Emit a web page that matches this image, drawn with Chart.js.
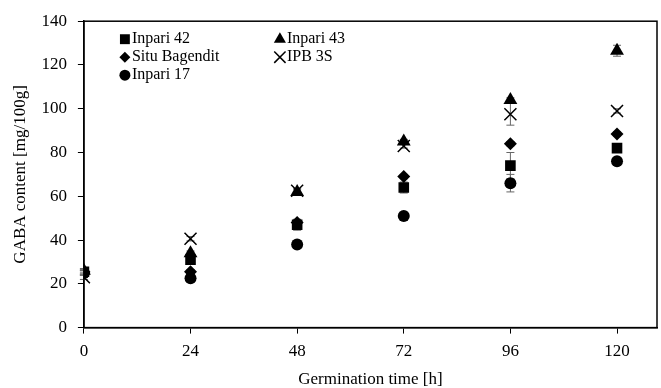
<!DOCTYPE html>
<html>
<head>
<meta charset="utf-8">
<script src="https://cdn.jsdelivr.net/npm/chart.js@4"></script>
<style>
  html, body { margin: 0; padding: 0; background: #fff; }
  #wrap { width: 661px; height: 388px; }
</style>
</head>
<body>
<div id="wrap"><canvas id="canva"></canvas></div>
<script>
const hours = [0, 24, 48, 72, 96, 120];
const xTicks = [0, 24, 48, 72, 96, 120];
const yTicks = [0, 20, 40, 60, 80, 100, 120, 140];

const inpari42 = [25.5, 31, 47, 64, 74, 82];
const inpari43 = [26, 34, 62, 85, 104, 126.5];
const situBagendit = [25, 25.5, 48, 69, 84, 88.5];
const ipb3s = [23, 40.6, 62.5, 83, 97.5, 99];
const inpari17 = [25, 22.5, 38, 51, 66, 76];

const err42 = [1, 2, 2.5, 2.5, 6, 2];
const err43 = [1, 1, 1, 1, 1, 2.5];
const errSitu = [1, 1, 1, 1, 1, 1];
const errIpb = [1, 1, 1, 1, 5, 1];
const err17 = [1, 1, 1, 1, 4, 1];

function pts(ys) {
  return hours.map((h, i) => ({ x: h, y: ys[i] }));
}

const serif = "'Liberation Serif', 'Times New Roman', serif";

const data = {
  datasets: [
    { label: "Inpari 42", data: pts(inpari42), err: err42, pointStyle: "rect", pointRadius: 7.5 },
    { label: "Inpari 43", data: pts(inpari43), err: err43, pointStyle: "triangle", pointRadius: 8 },
    { label: "Situ Bagendit", data: pts(situBagendit), err: errSitu, pointStyle: "rectRot", pointRadius: 6.5 },
    { label: "IPB 3S", data: pts(ipb3s), err: errIpb, pointStyle: "crossRot", pointRadius: 8.5 },
    { label: "Inpari 17", data: pts(inpari17), err: err17, pointStyle: "circle", pointRadius: 6 },
  ].map(d => Object.assign(d, {
    backgroundColor: "#000",
    borderColor: "#000",
    borderWidth: d.pointStyle === "crossRot" ? 1.5 : 0,
    pointHoverRadius: d.pointRadius,
  })),
};

// grey error bars, drawn before the markers
const errorBars = {
  id: "errorBars",
  beforeDatasetsDraw(chart) {
    const ctx = chart.ctx;
    const xs = chart.scales.x, ys = chart.scales.y;
    ctx.save();
    ctx.strokeStyle = "#666";
    ctx.lineWidth = 1;
    chart.data.datasets.forEach(ds => {
      ds.data.forEach((p, i) => {
        const e = ds.err[i];
        const px = xs.getPixelForValue(p.x);
        const top = ys.getPixelForValue(p.y + e);
        const bot = ys.getPixelForValue(p.y - e);
        ctx.beginPath();
        ctx.moveTo(px, top); ctx.lineTo(px, bot);
        ctx.moveTo(px - 4, top); ctx.lineTo(px + 4, top);
        ctx.moveTo(px - 4, bot); ctx.lineTo(px + 4, bot);
        ctx.stroke();
      });
    });
    ctx.restore();
  },
};

// box round the plot and the legend inside it
const frameLegend = {
  id: "frameLegend",
  afterDraw(chart) {
    const ctx = chart.ctx;
    const a = chart.chartArea;
    ctx.save();
    ctx.strokeStyle = "#000";
    ctx.lineWidth = 1.5;
    ctx.strokeRect(a.left, a.top, a.right - a.left, a.bottom - a.top);

    const slots = [
      [a.left + 41, a.top + 17],
      [a.left + 196, a.top + 17],
      [a.left + 41, a.top + 35],
      [a.left + 196, a.top + 35],
      [a.left + 41, a.top + 53],
    ];
    ctx.font = "16px " + serif;
    ctx.textBaseline = "middle";
    ctx.fillStyle = "#000";
    chart.data.datasets.forEach((ds, i) => {
      const [lx, ly] = slots[i];
      const r = ds.pointStyle === "crossRot" ? 8 : ds.pointStyle === "triangle" ? 7 : 5.5;
      Chart.helpers.drawPoint(ctx, {
        pointStyle: ds.pointStyle,
        radius: ds.pointStyle === "rect" ? 7 : r,
        borderWidth: ds.pointStyle === "crossRot" ? 1.2 : 0,
      }, lx, ly + 1);
      ctx.fillStyle = "#000";
      ctx.fillText(ds.label, lx + 7, ly + 1);
    });
    ctx.restore();
  },
};

const config = {
  type: "scatter",
  data: data,
  options: {
    responsive: true,
    maintainAspectRatio: false,
    animation: false,
    layout: { autoPadding: false, padding: { top: 21, right: 4, left: 10, bottom: 0 } },
    plugins: {
      legend: { display: false },
      tooltip: { enabled: false },
    },
    scales: {
      x: {
        type: "linear",
        min: 0,
        max: 129,
        afterBuildTicks: s => { s.ticks = xTicks.map(v => ({ value: v })); },
        ticks: { color: "#000", font: { family: serif, size: 17 }, padding: 8, includeBounds: false },
        grid: { display: true, drawOnChartArea: false, color: "#000", tickLength: 6, lineWidth: 1 },
        border: { color: "#000", width: 1.5 },
        title: { display: true, text: "Germination time [h]", color: "#000", font: { family: serif, size: 17, lineHeight: 1 }, padding: { top: 1, bottom: 0 } },
      },
      y: {
        min: 0,
        max: 140,
        afterBuildTicks: s => { s.ticks = yTicks.map(v => ({ value: v })); },
        ticks: { color: "#000", font: { family: serif, size: 17 }, padding: 11 },
        grid: { display: true, drawOnChartArea: false, color: "#000", tickLength: 6, lineWidth: 1 },
        border: { color: "#000", width: 1.5 },
        title: { display: true, text: "GABA content [mg/100g]", color: "#000", font: { family: serif, size: 17 }, padding: { top: 0, bottom: 0 } },
      },
    },
  },
  plugins: [errorBars, frameLegend],
};

const myChart = new Chart(document.getElementById("canva"), config);
</script>
</body>
</html>
